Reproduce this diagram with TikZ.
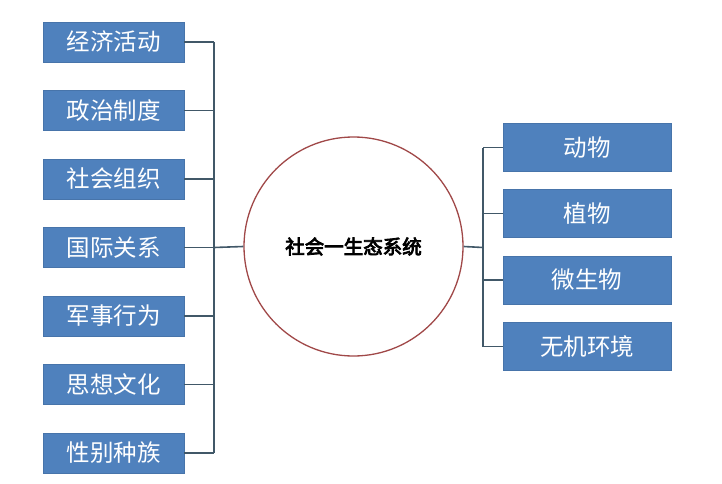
\documentclass[tikz,border=0pt]{standalone}
\usepackage{fontspec}
\newfontfamily\cjk{Noto Sans CJK SC}
\newfontfamily\cjkb[FakeBold=4]{Noto Sans CJK SC}
\definecolor{boxblue}{HTML}{4F81BD}
\definecolor{linec}{HTML}{415868}
\definecolor{circc}{HTML}{A04848}
\begin{document}
\begin{tikzpicture}[x=1pt,y=-1pt,
  lbox/.style={draw=boxblue!90!black,line width=0.6pt,fill=boxblue,minimum width=141pt,minimum height=40pt,inner sep=0pt,
    text=white,font=\cjk\fontsize{23.5}{25}\selectfont},
  rbox/.style={lbox,minimum width=168pt,minimum height=48pt},
  conn/.style={draw=linec,line width=1.6pt},
  hub/.style={circle,draw=circc,line width=1.3pt,minimum size=219pt,inner sep=0pt,
    font=\cjkb\fontsize{19.5}{21}\selectfont}]
\useasboundingbox (0,0) rectangle (722,484);
\node[hub] (c) at (353.5,246.5) {社会一生态系统};
\node[lbox] (l1) at (113.5,42) {经济活动};
\node[lbox] (l2) at (113.5,110.5) {政治制度};
\node[lbox] (l3) at (113.5,179) {社会组织};
\node[lbox] (l4) at (113.5,247.5) {国际关系};
\node[lbox] (l5) at (113.5,316) {军事行为};
\node[lbox] (l6) at (113.5,384.5) {思想文化};
\node[lbox] (l7) at (113.5,453) {性别种族};
\node[rbox] (r1) at (587,147.5) {动物};
\node[rbox] (r2) at (587,213.5) {植物};
\node[rbox] (r3) at (587,280) {微生物};
\node[rbox] (r4) at (587,346.5) {无机环境};
\coordinate (lb) at (214,247.5);
\coordinate (rb) at (483,247.5);
\foreach \i in {1,...,7} {
  \draw[conn] (l\i.east) -- (l\i.east -| lb);
}
\draw[conn] (l1.east -| lb) -- (l7.east -| lb);
\draw[conn] (lb) -- (c.west);
\foreach \i in {1,...,4} {
  \draw[conn] (r\i.west) -- (r\i.west -| rb);
}
\draw[conn] (r1.west -| rb) -- (r4.west -| rb);
\draw[conn] (c.east) -- (rb);
\end{tikzpicture}
\end{document}
